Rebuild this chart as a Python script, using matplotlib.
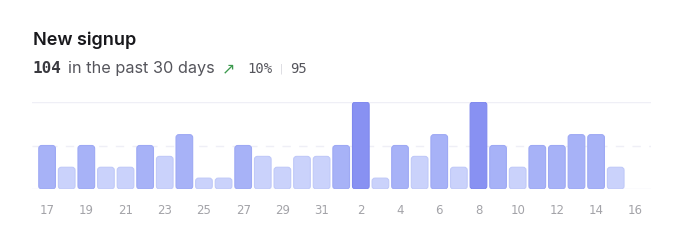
import matplotlib.pyplot as plt
from matplotlib.patches import FancyBboxPatch

# Daily signups, 17th of one month to the 16th of the next
days = [17, 18, 19, 20, 21, 22, 23, 24, 25, 26, 27, 28, 29, 30, 31,
        1, 2, 3, 4, 5, 6, 7, 8, 9, 10, 11, 12, 13, 14, 15, 16]
signups = [4, 2, 4, 2, 2, 4, 3, 5, 1, 1, 4, 3, 2, 3, 3,
           4, 8, 1, 4, 3, 5, 2, 8, 4, 2, 4, 4, 5, 5, 2]
total = 104
change = "10%"
previous = 95


def bar_colors(v):
    # fill, edge
    if v >= 8:
        return "#8891f2", "#7f88ee"
    if v >= 4:
        return "#a7b2f7", "#9ea9f4"
    return "#cad2fb", "#c0c9f8"


W, H = 680, 248
fig = plt.figure(figsize=(W / 100, H / 100), dpi=100)

# header texts
fig.text(33 / W, 1 - 45 / H, "New signup", fontsize=13, fontweight="semibold",
         family="Inter", color="#18181c", va="baseline")
fig.text(33 / W, 1 - 73 / H, str(total), fontsize=11.5, family="DejaVu Sans Mono",
         fontweight="semibold", color="#3a3a40", va="baseline")
fig.text(68 / W, 1 - 73 / H, "in the past 30 days", fontsize=11.7, family="Inter",
         color="#55555c", va="baseline")
fig.text(222 / W, 1 - 73 / H, "\u2197", fontsize=11.5, family="DejaVu Sans",
         color="#3c9a4e", va="baseline")
fig.text(247 / W, 1 - 73 / H, change, fontsize=10, family="DejaVu Sans Mono",
         color="#55555c", va="baseline")
fig.text(280 / W, 1 - 72 / H, "|", fontsize=7, family="DejaVu Sans",
         color="#d4d4da", va="baseline")
fig.text(290 / W, 1 - 73 / H, str(previous), fontsize=10, family="DejaVu Sans Mono",
         color="#55555c", va="baseline")

# chart area
ax = fig.add_axes([32 / W, 1 - 189 / H, (651 - 32) / W, (189 - 102) / H])
ax.set_xlim(-0.77, len(days) - 1 + 0.8)
ax.set_ylim(0, 8)

for y, ls in [(0, "-"), (4, (0, (6, 6))), (8, "-")]:
    ax.axhline(y, color="#efeff6", lw=1, ls=ls, zorder=0)

width = 0.85
for i, v in enumerate(signups):
    fc, ec = bar_colors(v)
    p = FancyBboxPatch((i - width / 2, 0), width, v,
                       boxstyle="round,pad=0,rounding_size=0.15",
                       mutation_aspect=1.8, fc=fc, ec=ec, lw=0.8, zorder=2)
    ax.add_patch(p)

ax.set_xticks(range(0, len(days), 2))
ax.set_xticklabels([str(d) for d in days[::2]])
ax.tick_params(axis="x", length=0, pad=11, labelsize=8.5, labelcolor="#a3a3a8")
ax.set_yticks([])
for s in ax.spines.values():
    s.set_visible(False)

fig.savefig("out.png", dpi=100)
